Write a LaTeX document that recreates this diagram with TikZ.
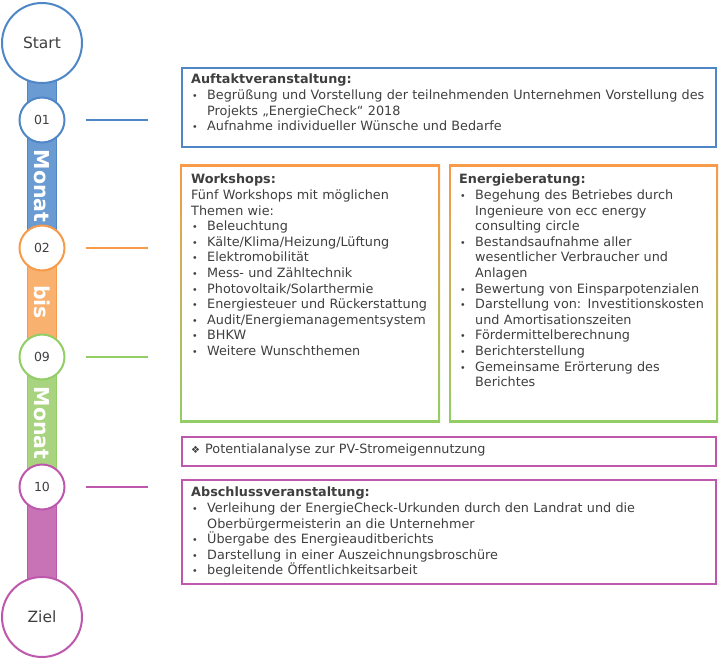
\documentclass[tikz,border=0pt]{standalone}
\usepackage{fontspec}
\setmainfont{DejaVu Sans}
\usetikzlibrary{backgrounds}

\definecolor{txtgray}{HTML}{3F3F3F}
\definecolor{cblue}{HTML}{4F86C6}
\definecolor{cbluefill}{HTML}{6A9BD3}
\definecolor{corange}{HTML}{F79A4A}
\definecolor{corangefill}{HTML}{F8B16E}
\definecolor{cgreen}{HTML}{92CD66}
\definecolor{cgreenfill}{HTML}{A8D47F}
\definecolor{cmagenta}{HTML}{BE58AC}
\definecolor{cmagentafill}{HTML}{C873B6}

% bullet item with hanging indent
\newcommand{\bul}[1]{\par\hangindent=16pt\hangafter=1\noindent\makebox[16pt][l]{\hspace{1pt}{\fontsize{9.5}{9.5}\selectfont\textbullet}}#1\par}

\begin{document}
\begin{tikzpicture}[
x=1pt, y=-1pt,
stone/.style={
    circle,
    draw,
    fill=white,
    line width=2pt,
    inner sep=0pt,
    text=txtgray
},
bigstone/.style={stone, minimum size=80pt, font=\fontsize{15.5}{18}\selectfont},
smallstone/.style={stone, minimum size=45pt, font=\fontsize{12.5}{14}\selectfont},
bar/.style={line width=1.5pt},
word/.style={rotate=-90, text=white, font=\bfseries\fontsize{20.5}{22}\selectfont},
tick/.style={line width=1.5pt},
frame/.style={line width=2pt},
txt/.style={
    anchor=north west,
    inner sep=0pt,
    text=txtgray,
    font=\fontsize{12.8}{15.6}\selectfont\raggedright
}
]
\useasboundingbox (0,0) rectangle (720,660);

% Milestones
\node[bigstone, draw=cblue] (start) at (42,43) {Start};
\node[smallstone, draw=cblue] (m01) at (42,120) {01};
\node[smallstone, draw=corange] (m02) at (42,248) {02};
\node[smallstone, draw=cgreen] (m09) at (42,357) {09};
\node[smallstone, draw=cmagenta] (m10) at (42,487) {10};
\node[bigstone, draw=cmagenta] (ziel) at (42,617) {Ziel};

% Timeline bars
\begin{scope}[on background layer]
\filldraw[bar, draw=cblue, fill=cbluefill] ([xshift=-14.5pt]start.center) rectangle ([xshift=14.5pt]m02.center);
\filldraw[bar, draw=corange, fill=corangefill] ([xshift=-14.5pt]m02.center) rectangle ([xshift=14.5pt]m09.center);
\filldraw[bar, draw=cgreen, fill=cgreenfill] ([xshift=-14.5pt]m09.center) rectangle ([xshift=14.5pt]m10.center);
\filldraw[bar, draw=cmagenta, fill=cmagentafill] ([xshift=-14.5pt]m10.center) rectangle ([xshift=14.5pt]ziel.center);
\end{scope}

\node[word] (w1) at (42,186) {Monat};
\node[word] (w2) at (42,302) {bis};
\node[word] (w3) at (42,423) {Monat};

% Ticks
\draw[tick, cblue] ([xshift=20pt]m01.east) -- ([xshift=82pt]m01.east);
\draw[tick, corange] ([xshift=20pt]m02.east) -- ([xshift=82pt]m02.east);
\draw[tick, cgreen] ([xshift=20pt]m09.east) -- ([xshift=82pt]m09.east);
\draw[tick, cmagenta] ([xshift=20pt]m10.east) -- ([xshift=82pt]m10.east);

% Frames
\draw[frame, cblue] (182,68) rectangle (716,147);
\fill[top color=corange, bottom color=cgreen] (180,165) rectangle (440,422);
\fill[white] (182,167) rectangle (438,420);
\fill[top color=corange, bottom color=cgreen] (449,165) rectangle (718,422);
\fill[white] (451,167) rectangle (716,420);
\draw[frame, cmagenta] (182,437) rectangle (716,466);
\draw[frame, cmagenta] (182,480) rectangle (716,584);

% Texts
\node[txt, text width=522pt] (auftakt) at (191,74) {\textbf{Auftaktveranstaltung:}
\bul{Begrüßung und Vorstellung der teilnehmenden Unternehmen Vorstellung des\newline Projekts „EnergieCheck“ 2018}
\bul{Aufnahme individueller Wünsche und Bedarfe}};

\node[txt, text width=245pt] (workshops) at (191,174) {\textbf{Workshops:}\newline Fünf Workshops mit möglichen\newline Themen wie:
\bul{Beleuchtung}
\bul{Kälte/Klima/Heizung/Lüftung}
\bul{Elektromobilität}
\bul{Mess- und Zähltechnik}
\bul{Photovoltaik/Solarthermie}
\bul{Energiesteuer und Rückerstattung}
\bul{Audit/Energiemanagementsystem}
\bul{BHKW}
\bul{Weitere Wunschthemen}};

\node[txt, text width=255pt] (beratung) at (459,174) {\textbf{Energieberatung:}
\bul{Begehung des Betriebes durch\newline Ingenieure von ecc energy\newline consulting circle}
\bul{Bestandsaufnahme aller\newline wesentlicher Verbraucher und\newline Anlagen}
\bul{Bewertung von Einsparpotenzialen}
\bul{Darstellung von: Investitionskosten\newline und Amortisationszeiten}
\bul{Fördermittelberechnung}
\bul{Berichterstellung}
\bul{Gemeinsame Erörterung des\newline Berichtes}};

\node[txt] (pv) at (191,444) {{\fontsize{10}{10}\selectfont ❖}\hspace{5pt}Potentialanalyse zur PV-Stromeigennutzung};

\node[txt, text width=522pt] (abschluss) at (191,487) {\textbf{Abschlussveranstaltung:}
\bul{Verleihung der EnergieCheck-Urkunden durch den Landrat und die\newline Oberbürgermeisterin an die Unternehmer}
\bul{Übergabe des Energieauditberichts}
\bul{Darstellung in einer Auszeichnungsbroschüre}
\bul{begleitende Öffentlichkeitsarbeit}};

\end{tikzpicture}
\end{document}
